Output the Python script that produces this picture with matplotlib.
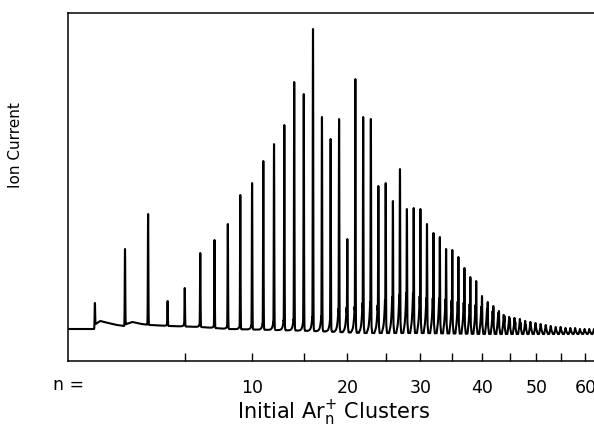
import numpy as np
import matplotlib
matplotlib.use('Agg')
import matplotlib.pyplot as plt
from matplotlib.ticker import NullLocator

plt.rcParams['font.family'] = ['DejaVu Sans']
plt.rcParams['mathtext.default'] = 'regular'
plt.rcParams['path.simplify'] = False

# cluster size of each peak
n_clusters = list(range(1, 63))

# top of each main peak (arbitrary ion current units)
peak_top = [58, 112, 147, 60, 73, 108, 121, 137, 166, 178,
            200, 217, 236, 279, 267, 332, 244, 222, 242, 122,
            282, 244, 242, 175, 178, 160, 192, 152, 153, 152,
            137, 128, 124, 112, 111, 104, 93, 84, 80, 65,
            59, 55, 50, 45, 42, 39, 38, 36, 34, 32,
            31, 31, 30, 30, 30, 30, 29, 29, 29, 29, 29, 29]

# broad shoulder under each peak (height above the baseline)
shoulder = [0, 0, 0, 1, 2, 2, 2, 3, 3, 4,
            6, 8, 10, 11, 9, 14, 15, 11, 23, 25,
            26, 30, 31, 28, 33, 36, 38, 40, 40, 37,
            35, 35, 35, 34, 33, 32, 31, 30, 29, 27,
            25, 23, 21, 19, 17, 16, 15, 13, 12, 11,
            10, 9, 8, 7, 7, 6, 6, 6, 5, 5, 5, 5]

# baseline of the trace
base_n = [0.39, 0.98, 1.02, 1.15, 1.4, 1.7, 1.98, 2.05, 2.3, 2.7,
          3.1, 4.1, 6, 8, 12, 16, 22, 30, 40, 62]
base_level = [32, 32, 37, 40, 38, 36, 35, 37, 39, 37,
              36, 35, 34, 32, 31, 30, 28, 28, 27, 27]

tick_n = [5, 10, 15, 20, 25, 30, 35, 40, 45, 50, 55, 60]
tick_labels = ['', '10', '', '20', '', '30', '', '40', '', '50', '', '60']


def gauss(x, c, w):
    return np.exp(-0.5 * ((x - c) / w) ** 2)


def cusp(x, c, w):
    return np.exp(-np.abs(x - c) / w)


# flight time goes with sqrt(n)
u = np.linspace(np.sqrt(0.39), np.sqrt(61.9), 24000)
nn = u ** 2
base = np.interp(nn, base_n, base_level)
trace = base.copy()
for n, sh in zip(n_clusters, shoulder):
    un = np.sqrt(n)
    trace += sh * (cusp(u, un - 0.01, 0.014) - 0.3 * gauss(u, un + 0.03, 0.01))
for n, top in zip(n_clusters, peak_top):
    un = np.sqrt(n)
    b = np.interp(n, base_n, base_level)
    trace = np.maximum(trace, base + (top - b) * gauss(u, un, 0.0035))

fig = plt.figure(figsize=(5.94, 4.27), dpi=100)
ax = fig.add_axes([68 / 594, 65 / 427, 1 - 68 / 594, 348 / 427])

ax.plot(nn, trace, color='black', lw=1.5)

ax.set_xscale('function', functions=(lambda x: np.sqrt(np.maximum(x, 0)),
                                     lambda x: np.square(x)))
ax.set_xlim(0.397, 61.86)
ax.set_ylim(0, 348)
ax.set_yticks([])
ax.set_xticks(tick_n)
ax.set_xticklabels(tick_labels)
ax.xaxis.set_minor_locator(NullLocator())
ax.tick_params(axis='x', direction='in', length=6, width=1.0, pad=12.2,
               labelsize=12.5)

ax.spines['right'].set_visible(False)
for s in ['top', 'left', 'bottom']:
    ax.spines[s].set_linewidth(1.1)

fig.text(53 / 594, (427 - 385) / 427, 'n =', fontsize=12.5, ha='left', va='center')
fig.text(333 / 594, 8 / 427, 'Initial Ar$_{n}^{+}$ Clusters', fontsize=15,
         ha='center', va='baseline')
fig.text(16 / 594, (427 - 145) / 427, 'Ion Current', fontsize=11,
         rotation=90, ha='center', va='center')

fig.savefig('out.png', dpi=100)
